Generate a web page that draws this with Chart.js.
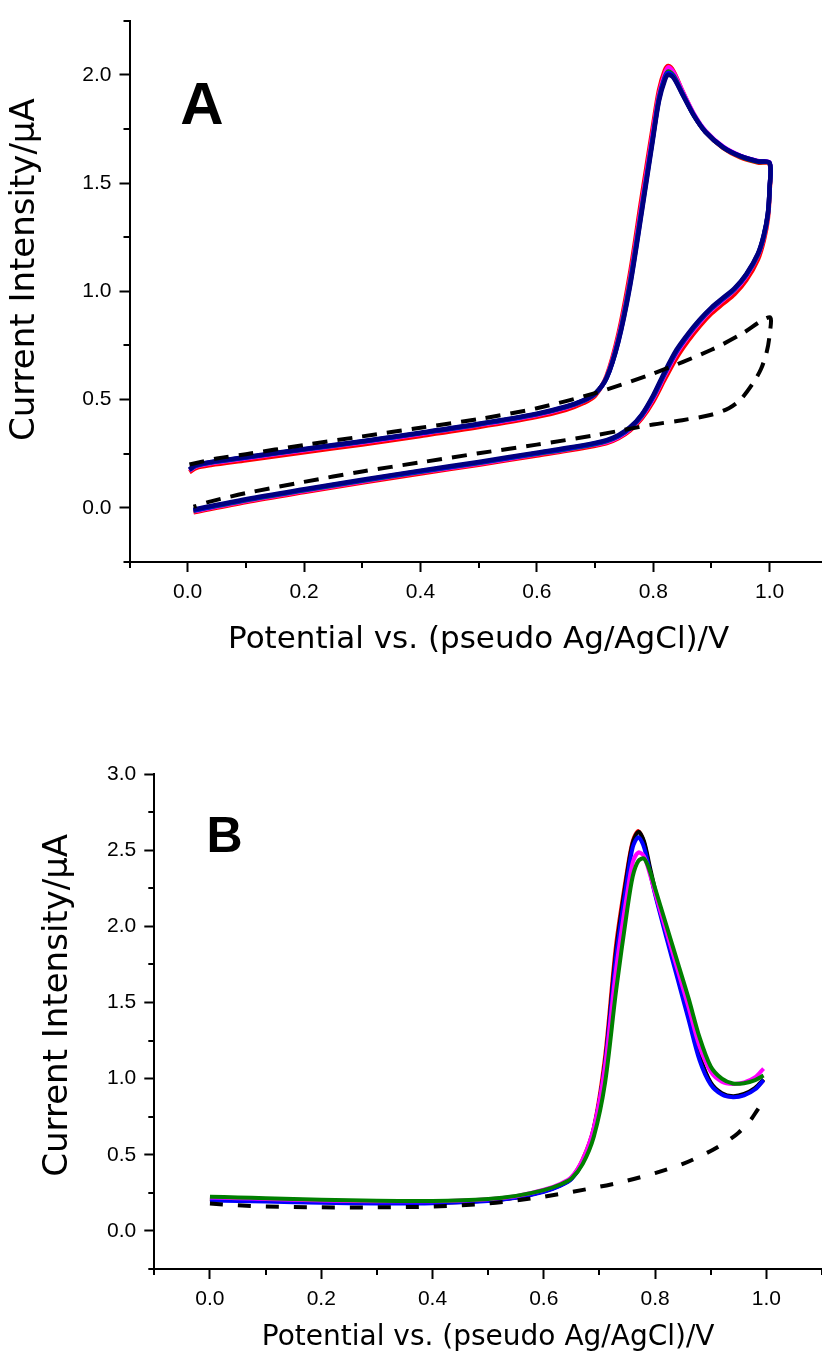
<!DOCTYPE html>
<html>
<head>
<meta charset="utf-8">
<script src="https://cdn.jsdelivr.net/npm/chart.js@4.4.1/dist/chart.umd.min.js"></script>
<style>
  html, body { margin: 0; padding: 0; background: #fff; overflow: hidden; }
  #wrap { position: relative; width: 822px; height: 1358px; overflow: hidden; }
  #cA { position: absolute; left: 0; top: 0; }
  #cB { position: absolute; left: 0; top: 680px; }
</style>
</head>
<body>
<div id="wrap">
  <canvas id="cA" width="830" height="680"></canvas>
  <canvas id="cB" width="822" height="678"></canvas>
</div>
<script>
// ---------- Panel A : cyclic voltammograms ----------
const aForwardX = [0.003, 0.015, 0.04, 0.1, 0.2, 0.3, 0.4, 0.5, 0.6, 0.65, 0.68, 0.70, 0.72, 0.74, 0.76, 0.78, 0.80, 0.81, 0.82, 0.826, 0.835, 0.85, 0.87, 0.89, 0.92, 0.95, 0.98, 1.0];
const aReverseX = [1.0, 0.997, 0.99, 0.98, 0.96, 0.94, 0.92, 0.90, 0.88, 0.86, 0.84, 0.82, 0.80, 0.78, 0.76, 0.74, 0.72, 0.70, 0.65, 0.6, 0.5, 0.4, 0.3, 0.2, 0.1, 0.01];

const aNavyFwd = [0.178, 0.198, 0.212, 0.235, 0.272, 0.308, 0.347, 0.388, 0.435, 0.468, 0.497, 0.528, 0.600, 0.765, 1.020, 1.360, 1.710, 1.880, 1.975, 2.000, 1.985, 1.910, 1.810, 1.735, 1.665, 1.624, 1.600, 1.593];
const aNavyRev = [1.480, 1.360, 1.260, 1.175, 1.080, 1.015, 0.970, 0.925, 0.870, 0.805, 0.730, 0.630, 0.520, 0.430, 0.372, 0.335, 0.313, 0.300, 0.276, 0.255, 0.212, 0.172, 0.130, 0.086, 0.040, -0.008];
const aBlueFwd = [0.176, 0.196, 0.210, 0.233, 0.270, 0.306, 0.345, 0.386, 0.433, 0.466, 0.495, 0.526, 0.600, 0.770, 1.030, 1.370, 1.720, 1.888, 1.985, 2.008, 1.990, 1.913, 1.812, 1.736, 1.666, 1.624, 1.600, 1.593];
const aBlueRev = [1.478, 1.357, 1.257, 1.172, 1.077, 1.012, 0.967, 0.922, 0.866, 0.800, 0.724, 0.624, 0.515, 0.427, 0.369, 0.332, 0.310, 0.297, 0.273, 0.252, 0.209, 0.169, 0.127, 0.083, 0.037, -0.011];
const aGreenFwd = [0.175, 0.195, 0.209, 0.232, 0.269, 0.305, 0.344, 0.385, 0.432, 0.465, 0.494, 0.526, 0.602, 0.775, 1.040, 1.380, 1.725, 1.895, 1.990, 2.015, 1.995, 1.915, 1.812, 1.736, 1.664, 1.622, 1.598, 1.591];
const aGreenRev = [1.476, 1.355, 1.255, 1.170, 1.075, 1.010, 0.965, 0.920, 0.864, 0.798, 0.722, 0.622, 0.513, 0.425, 0.367, 0.330, 0.308, 0.295, 0.271, 0.250, 0.207, 0.167, 0.125, 0.081, 0.035, -0.013];
const aMagentaFwd = [0.172, 0.192, 0.206, 0.229, 0.266, 0.302, 0.341, 0.382, 0.429, 0.462, 0.492, 0.525, 0.605, 0.785, 1.055, 1.400, 1.745, 1.910, 2.005, 2.035, 2.010, 1.925, 1.818, 1.740, 1.668, 1.626, 1.602, 1.594];
const aMagentaRev = [1.475, 1.352, 1.252, 1.166, 1.070, 1.005, 0.960, 0.914, 0.857, 0.790, 0.712, 0.612, 0.505, 0.420, 0.363, 0.326, 0.304, 0.292, 0.268, 0.247, 0.204, 0.164, 0.122, 0.078, 0.032, -0.016];
const aRedFwd = [0.165, 0.185, 0.198, 0.220, 0.257, 0.293, 0.332, 0.373, 0.420, 0.453, 0.484, 0.518, 0.610, 0.800, 1.080, 1.430, 1.770, 1.930, 2.020, 2.040, 2.015, 1.925, 1.815, 1.735, 1.662, 1.618, 1.595, 1.588];
const aRedRev = [1.460, 1.335, 1.235, 1.148, 1.052, 0.988, 0.943, 0.898, 0.840, 0.772, 0.693, 0.595, 0.492, 0.412, 0.357, 0.321, 0.299, 0.287, 0.263, 0.242, 0.199, 0.159, 0.117, 0.073, 0.027, -0.021];

const aBlankX = [0.003, 0.05, 0.1, 0.2, 0.3, 0.4, 0.5, 0.6, 0.7, 0.8, 0.9, 0.95, 1.0, 1.0, 0.995, 0.985, 0.97, 0.95, 0.93, 0.9, 0.85, 0.8, 0.75, 0.7, 0.6, 0.5, 0.4, 0.3, 0.2, 0.1, 0.04, 0.01];
const aBlankY = [0.200, 0.228, 0.248, 0.290, 0.330, 0.370, 0.410, 0.460, 0.530, 0.620, 0.730, 0.800, 0.880, 0.800, 0.720, 0.640, 0.570, 0.500, 0.460, 0.430, 0.405, 0.385, 0.360, 0.335, 0.292, 0.252, 0.210, 0.168, 0.120, 0.068, 0.030, 0.005];

const aXTicks = [0.0, 0.2, 0.4, 0.6, 0.8, 1.0];
const aXMinor = [-0.1, 0.1, 0.3, 0.5, 0.7, 0.9, 1.1];
const aYTicks = [0.0, 0.5, 1.0, 1.5, 2.0];
const aYMinor = [-0.25, 0.25, 0.75, 1.25, 1.75, 2.25];

// ---------- Panel B : differential pulse voltammograms ----------
const bX = [0.0, 0.05, 0.1, 0.2, 0.3, 0.4, 0.5, 0.55, 0.6, 0.63, 0.65, 0.67, 0.69, 0.71, 0.73, 0.75, 0.76, 0.77, 0.78, 0.79, 0.80, 0.82, 0.84, 0.86, 0.88, 0.90, 0.92, 0.94, 0.96, 0.98, 0.995];
const bRed = [0.21, 0.205, 0.20, 0.19, 0.185, 0.185, 0.20, 0.22, 0.26, 0.30, 0.35, 0.47, 0.68, 1.14, 1.88, 2.37, 2.56, 2.625, 2.55, 2.38, 2.22, 1.95, 1.68, 1.41, 1.14, 0.97, 0.90, 0.88, 0.895, 0.935, 0.99];
const bBlack = [0.21, 0.205, 0.20, 0.19, 0.185, 0.185, 0.20, 0.22, 0.26, 0.30, 0.345, 0.46, 0.67, 1.10, 1.84, 2.35, 2.55, 2.62, 2.56, 2.40, 2.24, 1.96, 1.69, 1.42, 1.15, 0.975, 0.905, 0.885, 0.90, 0.94, 0.995];
const bBlue = [0.20, 0.197, 0.193, 0.185, 0.18, 0.182, 0.197, 0.217, 0.257, 0.297, 0.342, 0.455, 0.67, 1.09, 1.80, 2.31, 2.52, 2.585, 2.52, 2.37, 2.21, 1.93, 1.66, 1.39, 1.12, 0.96, 0.895, 0.878, 0.89, 0.93, 0.99];
const bMagenta = [0.22, 0.215, 0.21, 0.20, 0.195, 0.195, 0.208, 0.228, 0.27, 0.31, 0.355, 0.47, 0.68, 1.08, 1.72, 2.22, 2.42, 2.485, 2.46, 2.35, 2.22, 1.97, 1.72, 1.47, 1.21, 1.045, 0.98, 0.965, 0.975, 1.01, 1.066];
const bGreen = [0.225, 0.22, 0.215, 0.205, 0.198, 0.197, 0.21, 0.23, 0.268, 0.305, 0.345, 0.44, 0.62, 0.97, 1.58, 2.11, 2.33, 2.43, 2.445, 2.37, 2.25, 2.01, 1.77, 1.53, 1.27, 1.08, 1.00, 0.968, 0.97, 0.99, 1.02];
const bBlankX = [0.0, 0.05, 0.1, 0.2, 0.3, 0.4, 0.5, 0.6, 0.7, 0.75, 0.8, 0.85, 0.9, 0.93, 0.95, 0.97, 0.985, 0.995];
const bBlankY = [0.18, 0.168, 0.16, 0.155, 0.155, 0.16, 0.18, 0.225, 0.29, 0.33, 0.38, 0.44, 0.525, 0.59, 0.645, 0.72, 0.80, 0.85];

const bXTicks = [0.0, 0.2, 0.4, 0.6, 0.8, 1.0];
const bXMinor = [-0.1, 0.1, 0.3, 0.5, 0.7, 0.9, 1.1];
const bYTicks = [0.0, 0.5, 1.0, 1.5, 2.0, 2.5, 3.0];
const bYMinor = [-0.25, 0.25, 0.75, 1.25, 1.75, 2.25, 2.75];

const xTitle = 'Potential vs. (pseudo Ag/AgCl)/V';
const yTitle = 'Current Intensity/\u03BCA';

// ---------- helpers ----------
function pts(xs, ys) { return xs.map((x, i) => ({ x: x, y: ys[i] })); }
function line(data, color, width, dash) {
  return { data: data, borderColor: color, backgroundColor: color, borderWidth: width,
           borderDash: dash || [], pointRadius: 0, showLine: true, tension: 0.3, fill: false };
}

const minorTicks = {
  id: 'minorTicks',
  afterDraw(chart, args, opts) {
    const ctx = chart.ctx, xs = chart.scales.x, ys = chart.scales.y;
    ctx.save();
    ctx.strokeStyle = '#000'; ctx.lineWidth = 2;
    opts.x.forEach(v => {
      const p = Math.round(xs.getPixelForValue(v));
      ctx.beginPath(); ctx.moveTo(p, xs.top); ctx.lineTo(p, xs.top + 6); ctx.stroke();
    });
    opts.y.forEach(v => {
      const p = Math.round(ys.getPixelForValue(v));
      ctx.beginPath(); ctx.moveTo(ys.right, p); ctx.lineTo(ys.right - 6, p); ctx.stroke();
    });
    ctx.restore();
  }
};
const panelLabel = {
  id: 'panelLabel',
  afterDraw(chart, args, opts) {
    const ctx = chart.ctx;
    ctx.save();
    ctx.fillStyle = '#000';
    ctx.font = 'bold ' + opts.size + 'px "Liberation Sans", Arial, sans-serif';
    ctx.textBaseline = 'alphabetic';
    ctx.textAlign = 'left';
    ctx.fillText(opts.text, chart.scales.x.getPixelForValue(opts.x), chart.scales.y.getPixelForValue(opts.y));
    ctx.restore();
  }
};

function axisCommon(min, max, ticks, fitSize, isX, titleFont, titlePad, titleText) {
  return {
    type: 'linear', min: min, max: max,
    afterBuildTicks: s => { s.ticks = ticks.map(v => ({ value: v })); },
    afterFit: s => { if (isX) s.height = fitSize; else s.width = fitSize; },
    ticks: { color: '#000', padding: 8, autoSkip: false, maxRotation: 0,
             font: { family: '"Liberation Sans", Arial, sans-serif', size: 21 },
             callback: v => Number(v).toFixed(1) },
    grid: { display: true, drawOnChartArea: false, drawTicks: true, tickLength: 10,
            tickWidth: 2, tickColor: '#000', color: '#000' },
    border: { display: true, color: '#000', width: 2 },
    title: { display: true, text: titleText, color: '#000',
             font: { family: '"DejaVu Sans", sans-serif', size: titleFont },
             padding: isX ? { top: 0, bottom: 0 } : { top: titlePad, bottom: 0 } }
  };
}

function makeChart(id, datasets, cfg) {
  return new Chart(document.getElementById(id), {
    type: 'scatter',
    data: { datasets: datasets },
    options: {
      responsive: false, animation: false, devicePixelRatio: 1,
      layout: { padding: cfg.padding },
      plugins: { legend: { display: false }, tooltip: { enabled: false },
                 minorTicks: { x: cfg.xMinor, y: cfg.yMinor },
                 panelLabel: cfg.label },
      scales: {
        x: axisCommon(-0.1, 1.1, cfg.xTicks, cfg.xFit, true, cfg.xFont, 0, xTitle),
        y: axisCommon(cfg.yMin, cfg.yMax, cfg.yTicks, cfg.yFit, false, 34, cfg.yTitlePad, cfg.yTitleText)
      }
    },
    plugins: [minorTicks, panelLabel]
  });
}

// Panel A (first dataset is drawn on top)
makeChart('cA', [
  line(pts(aBlankX, aBlankY), '#000000', 4, [15, 10]),
  line(pts(aForwardX.concat(aReverseX), aNavyFwd.concat(aNavyRev)), '#000080', 4.5),
  line(pts(aForwardX.concat(aReverseX), aBlueFwd.concat(aBlueRev)), '#0000FF', 4.5),
  line(pts(aForwardX.concat(aReverseX), aGreenFwd.concat(aGreenRev)), '#008000', 4.5),
  line(pts(aForwardX.concat(aReverseX), aMagentaFwd.concat(aMagentaRev)), '#FF00FF', 4.5),
  line(pts(aForwardX.concat(aReverseX), aRedFwd.concat(aRedRev)), '#FF0000', 4.5)
], {
  padding: { left: 0, top: 16.8, right: 2.2, bottom: 21.4 },
  xTicks: aXTicks, xMinor: aXMinor, yTicks: aYTicks, yMinor: aYMinor,
  yMin: -0.25, yMax: 2.25, xFit: 96.6, yFit: 129.5, xFont: 31, yTitlePad: 4.6,
  yTitleText: '    ' + yTitle,
  label: { text: 'A', size: 60, x: -0.013, y: 1.772 }
});

// Panel B
makeChart('cB', [
  line(pts(bBlankX, bBlankY), '#000000', 4, [13, 15]),
  line(pts(bX, bGreen), '#008000', 4),
  line(pts(bX, bMagenta), '#FF00FF', 4),
  line(pts(bX, bBlue), '#0000FF', 4),
  line(pts(bX, bBlack), '#000000', 4),
  line(pts(bX, bRed), '#FF0000', 4)
], {
  padding: { left: 0, top: 94, right: 0, bottom: 3.2 },
  xTicks: bXTicks, xMinor: bXMinor, yTicks: bYTicks, yMinor: bYMinor,
  yMin: -0.25, yMax: 3.0, xFit: 85.8, yFit: 154.3, xFont: 28, yTitlePad: 38,
  yTitleText: '   ' + yTitle,
  label: { text: 'B', size: 50, x: -0.006, y: 2.487 }
});
</script>
</body>
</html>
